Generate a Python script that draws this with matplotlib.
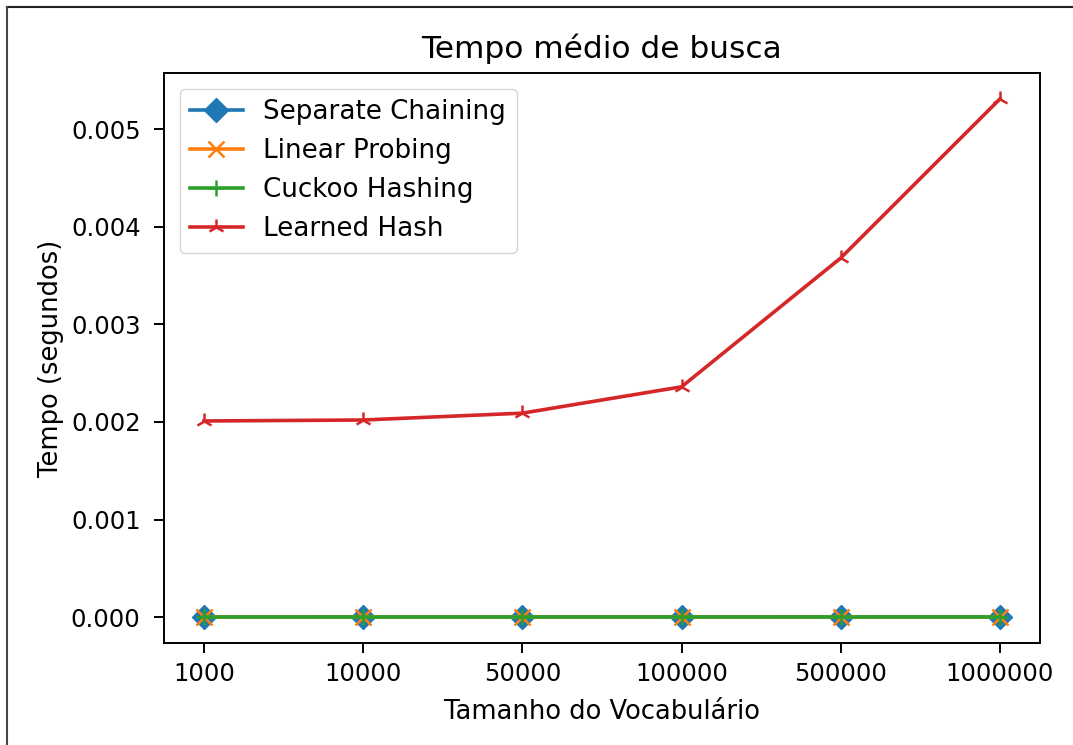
import matplotlib
matplotlib.use("Agg")
import matplotlib.pyplot as plt
from matplotlib.lines import Line2D

tamanhos = ['1000', '10000', '50000', '100000', '500000', '1000000']
separate_chaining = [1.2e-6, 1.3e-6, 1.4e-6, 1.5e-6, 1.7e-6, 1.9e-6]
linear_probing = [1.0e-6, 1.1e-6, 1.2e-6, 1.3e-6, 1.5e-6, 1.6e-6]
cuckoo_hashing = [1.1e-6, 1.2e-6, 1.3e-6, 1.4e-6, 1.6e-6, 1.8e-6]
learned_hash = [0.00201, 0.00202, 0.00209, 0.00236, 0.00368, 0.00531]

plt.rcParams['font.family'] = 'DejaVu Sans'

fig = plt.figure(figsize=(10.73, 7.45), dpi=100)
ax = fig.add_axes([0.153, 0.137, 0.816, 0.765])

lw = 2.6
ms = 12
ax.plot(tamanhos, separate_chaining, marker='D', lw=lw, ms=ms, label='Separate Chaining')
ax.plot(tamanhos, linear_probing, marker='x', lw=lw, ms=ms, mew=1.8, label='Linear Probing')
ax.plot(tamanhos, cuckoo_hashing, marker='+', lw=lw, ms=ms, mew=1.8, label='Cuckoo Hashing')
ax.plot(tamanhos, learned_hash, marker='2', lw=lw, ms=ms, mew=1.8, label='Learned Hash')

ax.set_title('Tempo médio de busca', fontsize=22.5, pad=11)
ax.set_xlabel('Tamanho do Vocabulário', fontsize=18.5, labelpad=9)
ax.set_ylabel('Tempo (segundos)', fontsize=18.5, labelpad=5)
ax.tick_params(labelsize=17.5, length=7, width=1.4)
ax.tick_params(axis='x', pad=7)
ax.tick_params(axis='y', pad=10)
for s in ax.spines.values():
    s.set_linewidth(1.4)
ax.set_yticks([0.0, 0.001, 0.002, 0.003, 0.004, 0.005])
ax.set_yticklabels(['0.000', '0.001', '0.002', '0.003', '0.004', '0.005'])
ax.legend(loc='upper left', fontsize=18.8, handlelength=2.0, borderaxespad=0.6)

# moldura da figura no documento
fig.add_artist(Line2D([0.0065, 1.0], [0.99, 0.99], color='#222222', lw=1.5))
fig.add_artist(Line2D([0.0065, 0.0065], [0.0, 0.99], color='#444444', lw=1.5))

fig.savefig('out.png', dpi=100)
